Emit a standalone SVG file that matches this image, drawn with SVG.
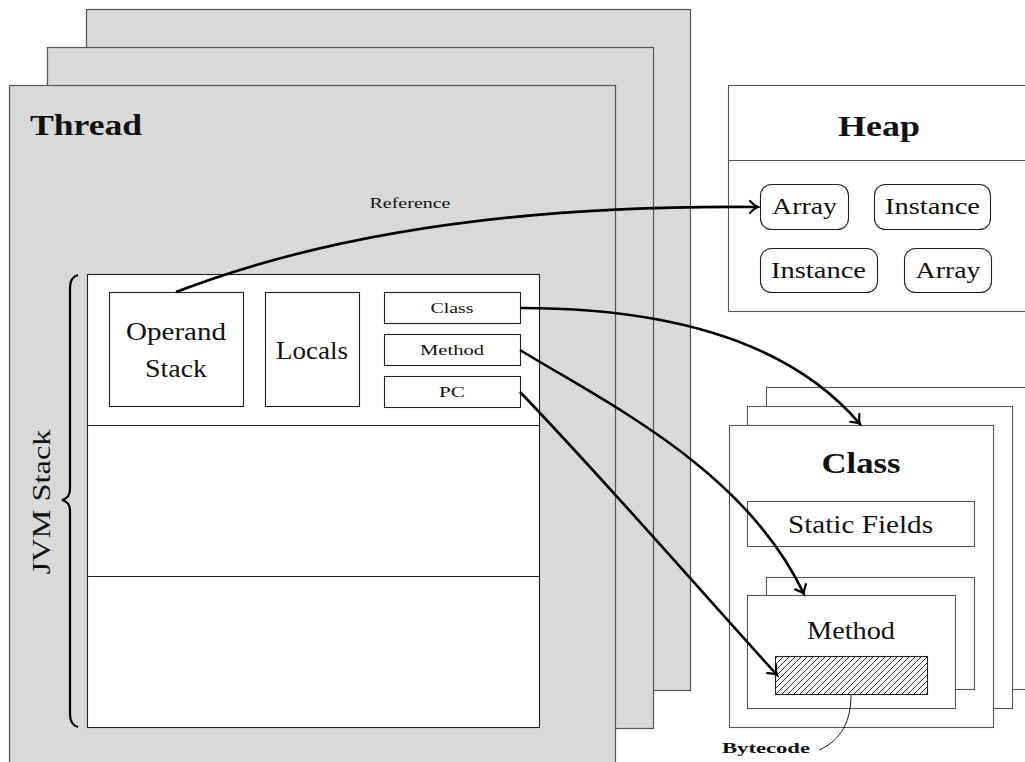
<svg xmlns="http://www.w3.org/2000/svg" width="1025" height="762" viewBox="0 0 1025 762">
<style>
.frame{fill:#d9d9d9;stroke:#555;stroke-width:1.2}
.box{fill:#fff;stroke:#222;stroke-width:1.1}
.gbox{fill:#fff;stroke:#555;stroke-width:1.1}
.t{font-family:"Liberation Serif",serif;fill:#111}
.b{font-weight:bold}
.arr{fill:none;stroke:#000;stroke-width:2.6}
</style>
<defs>
<marker id="ah" markerUnits="userSpaceOnUse" markerWidth="16" markerHeight="16" refX="1" refY="0" viewBox="-10 -8 12 16" orient="auto">
<path d="M-7,-6 Q-2,-1 1,0 Q-2,1 -7,6" fill="none" stroke="#000" stroke-width="2.2" stroke-linecap="round"/>
</marker>
<pattern id="hatch" patternUnits="userSpaceOnUse" width="6" height="6">
<path d="M-1,1 L1,-1 M0,6 L6,0 M5,7 L7,5" stroke="#000" stroke-width="0.8"/>
</pattern>
</defs>

<g id="thread3"><rect class="frame" x="86.5" y="9.5" width="604" height="681"/></g>
<g id="thread2"><rect class="frame" x="47.5" y="47.5" width="606" height="681"/></g>
<g id="thread">
<rect class="frame" x="9.5" y="85.5" width="606" height="690"/>
<text class="t b" x="30" y="135" font-size="29" textLength="112" lengthAdjust="spacingAndGlyphs">Thread</text>
</g>

<g id="jvmstack">
<rect class="box" x="87.5" y="274.5" width="452" height="453"/>
<line x1="87.5" y1="425.5" x2="539.5" y2="425.5" stroke="#222" stroke-width="1.1"/>
<line x1="87.5" y1="576.5" x2="539.5" y2="576.5" stroke="#222" stroke-width="1.1"/>
<path d="M78,275 Q70,277 70,288 L70,489 Q70,498 62,500 Q70,502 70,511 L70,714 Q70,725 78,727" fill="none" stroke="#000" stroke-width="2.2"/>
<text class="t" transform="translate(50,502) rotate(-90)" text-anchor="middle" font-size="25" textLength="145" lengthAdjust="spacingAndGlyphs">JVM Stack</text>
</g>

<g id="operand">
<rect class="box" x="109.5" y="292.5" width="134" height="114"/>
<text class="t" x="176" y="340" text-anchor="middle" font-size="26" textLength="100" lengthAdjust="spacingAndGlyphs">Operand</text>
<text class="t" x="176" y="377" text-anchor="middle" font-size="26" textLength="62" lengthAdjust="spacingAndGlyphs">Stack</text>
</g>
<g id="locals">
<rect class="box" x="265.5" y="292.5" width="94" height="114"/>
<text class="t" x="312" y="359" text-anchor="middle" font-size="26" textLength="72" lengthAdjust="spacingAndGlyphs">Locals</text>
</g>
<g id="classref">
<rect class="box" x="384.5" y="292.5" width="136" height="31"/>
<text class="t" x="452" y="313" text-anchor="middle" font-size="14" textLength="43" lengthAdjust="spacingAndGlyphs">Class</text>
</g>
<g id="methodref">
<rect class="box" x="384.5" y="334.5" width="136" height="31"/>
<text class="t" x="452" y="355" text-anchor="middle" font-size="14" textLength="64" lengthAdjust="spacingAndGlyphs">Method</text>
</g>
<g id="pc">
<rect class="box" x="384.5" y="376.5" width="136" height="31"/>
<text class="t" x="452" y="397" text-anchor="middle" font-size="14" textLength="26" lengthAdjust="spacingAndGlyphs">PC</text>
</g>

<g id="heap">
<rect class="gbox" x="728.5" y="85.5" width="310" height="226"/>
<line x1="728.5" y1="160.5" x2="1030" y2="160.5" stroke="#555" stroke-width="1.1"/>
<text class="t b" x="879" y="136" text-anchor="middle" font-size="29" textLength="82" lengthAdjust="spacingAndGlyphs">Heap</text>
</g>
<g id="array1">
<rect class="box" x="760.5" y="184.5" width="88" height="45" rx="11"/>
<text class="t" x="804.5" y="214" text-anchor="middle" font-size="24" textLength="65" lengthAdjust="spacingAndGlyphs">Array</text>
</g>
<g id="instance1">
<rect class="box" x="874.5" y="184.5" width="116" height="45" rx="11"/>
<text class="t" x="932.5" y="214" text-anchor="middle" font-size="24" textLength="95" lengthAdjust="spacingAndGlyphs">Instance</text>
</g>
<g id="instance2">
<rect class="box" x="760.5" y="248.5" width="117" height="44" rx="11"/>
<text class="t" x="818.5" y="278" text-anchor="middle" font-size="24" textLength="95" lengthAdjust="spacingAndGlyphs">Instance</text>
</g>
<g id="array2">
<rect class="box" x="904.5" y="248.5" width="87" height="44" rx="11"/>
<text class="t" x="948" y="278" text-anchor="middle" font-size="24" textLength="65" lengthAdjust="spacingAndGlyphs">Array</text>
</g>

<g id="class3"><rect class="gbox" x="766.5" y="387.5" width="280" height="302"/></g>
<g id="class2"><rect class="gbox" x="747.5" y="406.5" width="265" height="302"/></g>
<g id="class">
<rect class="gbox" x="729.5" y="425.5" width="264" height="302"/>
<text class="t b" x="861" y="473" text-anchor="middle" font-size="29" textLength="79" lengthAdjust="spacingAndGlyphs">Class</text>
</g>
<g id="staticfields">
<rect class="gbox" x="747.5" y="501.5" width="227" height="45"/>
<text class="t" x="860.5" y="533" text-anchor="middle" font-size="25" textLength="145" lengthAdjust="spacingAndGlyphs">Static Fields</text>
</g>
<g id="method2"><rect class="gbox" x="766.5" y="577.5" width="208" height="112"/></g>
<g id="method">
<rect class="gbox" x="747.5" y="595.5" width="208" height="113"/>
<text class="t" x="851" y="639" text-anchor="middle" font-size="26" textLength="88" lengthAdjust="spacingAndGlyphs">Method</text>
</g>
<g id="bytecode">
<rect x="775.5" y="656.5" width="152" height="38" fill="url(#hatch)" stroke="#222" stroke-width="1.1"/>
<path d="M851,695 C851,720 842,740 819,750" fill="none" stroke="#000" stroke-width="0.9"/>
<text class="t b" x="722" y="753" font-size="14" textLength="88" lengthAdjust="spacingAndGlyphs">Bytecode</text>
</g>

<g id="connectors">
<path class="arr" d="M176,292 C350,225 560,205 758,207" marker-end="url(#ah)"/>
<text class="t" x="410" y="208" text-anchor="middle" font-size="14" textLength="81" lengthAdjust="spacingAndGlyphs">Reference</text>
<path class="arr" d="M520,308 C640,308 780,330 860,424" marker-end="url(#ah)"/>
<path class="arr" d="M520,350 C610,405 745,470 804,594" marker-end="url(#ah)"/>
<path class="arr" d="M520,392 C600,475 700,590 777,675" marker-end="url(#ah)"/>
</g>
</svg>
